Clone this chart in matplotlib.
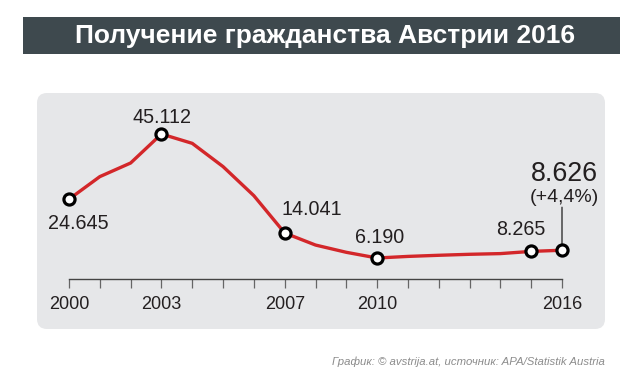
import matplotlib
matplotlib.use("Agg")
import matplotlib.pyplot as plt
from matplotlib.patches import FancyBboxPatch, Rectangle

plt.rcParams['font.family'] = ['Liberation Sans', 'DejaVu Sans']

# data: naturalisations in Austria
years = [2000, 2001, 2002, 2003, 2004, 2005, 2006, 2007, 2008,
         2009, 2010, 2011, 2012, 2013, 2014, 2015, 2016]
values = [24645, 31731, 36011, 45112, 42174, 34876, 25746, 14041, 10258,
          7978, 6190, 6690, 7043, 7354, 7570, 8265, 8626]
marked_years = [2000, 2003, 2007, 2010, 2015, 2016]
tick_labels = ["2000", "2003", "2007", "2010", "2016"]
title = "Получение гражданства Австрии 2016"
source = "График: © avstrija.at, источник: APA/Statistik Austria"

red = "#d3272a"
dark = "#231f20"

fig = plt.figure(figsize=(6.4, 3.79), dpi=100)
fig.patch.set_facecolor("white")

# background layer in pixel coordinates
bg = fig.add_axes([0, 0, 1, 1])
bg.set_xlim(0, 640)
bg.set_ylim(379, 0)
bg.axis("off")
bg.add_patch(Rectangle((23, 17), 597, 37, facecolor="#3e494e", edgecolor="none"))
bg.text(325, 36.5, title, color="white", fontsize=19, fontweight="bold",
        ha="center", va="center")
bg.add_patch(FancyBboxPatch((46, 102), 550, 218, boxstyle="round,pad=9,rounding_size=10",
                            facecolor="#e6e7e9", edgecolor="none"))
bg.text(605, 362, source, color="#8c8c8c", fontsize=8.2, style="italic",
        ha="right", va="center")

# data axes
ax = fig.add_axes([69 / 640, 100 / 379, 493 / 640, 179 / 379])
ax.patch.set_alpha(0)
ax.set_xlim(2000, 2016)
ax.set_ylim(-401, 55784)
for s in ["top", "right", "left"]:
    ax.spines[s].set_visible(False)
ax.spines["bottom"].set_color("#444444")
ax.spines["bottom"].set_linewidth(1)
ax.set_yticks([])
ax.set_xticks(years)
ax.set_xticklabels([str(y) if str(y) in tick_labels else "" for y in years])
ax.tick_params(axis="x", direction="out", length=6.5, width=0.9, color="#666666",
               labelsize=13, labelcolor=dark, pad=5.5)

ax.plot(years, values, color=red, lw=2.4, solid_joinstyle="round", clip_on=False, zorder=3)
mv = [values[years.index(y)] for y in marked_years]
ax.plot(marked_years, mv, ls="none", marker="o", ms=8, mfc="white", mec="black",
        mew=2.3, clip_on=False, zorder=5)

def label(year, text, dx, dy, size=14.2):
    v = values[years.index(year)]
    ax.annotate(text, xy=(year, v), xytext=(dx, dy), textcoords="offset pixels",
                ha="center", va="center", fontsize=size, color=dark, annotation_clip=False)

label(2000, "24.645", 9, -24)
label(2003, "45.112", 1, 16)
label(2007, "14.041", 27, 23)
label(2010, "6.190", 3, 21)
label(2015, "8.265", -10, 22)
label(2016, "8.626", 2, 76, size=19.3)
label(2016, "(+4,4%)", 2, 53, size=14)
ax.annotate("", xy=(2016, values[-1]), xytext=(0, 43), textcoords="offset pixels",
            arrowprops=dict(arrowstyle="-", color="#333333", lw=1, shrinkA=0, shrinkB=0),
            annotation_clip=False)

fig.savefig("out.png", dpi=100)
